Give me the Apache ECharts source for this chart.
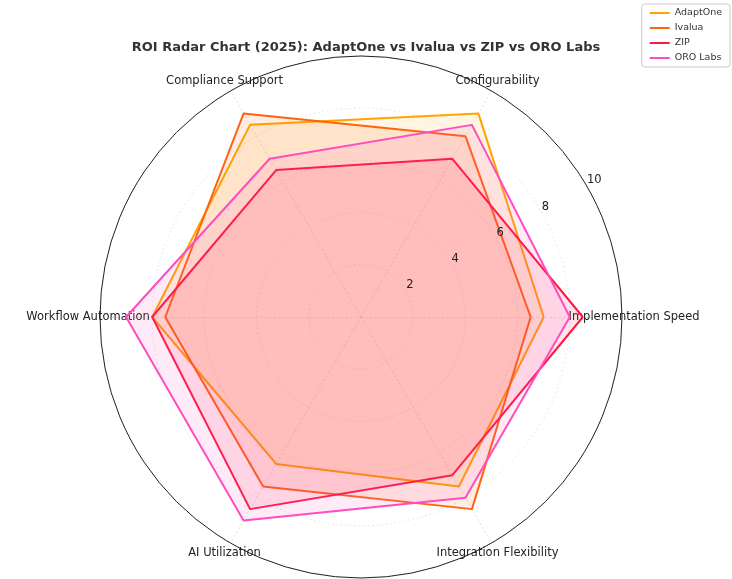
<!DOCTYPE html>
<html lang="en">
<head>
    <meta charset="UTF-8">
    <title>ROI Radar Chart</title>
    <script type="text/javascript" src="https://cdn.jsdelivr.net/npm/echarts@6/dist/echarts.min.js"></script>
    <style>
        html, body { margin: 0; padding: 0; background: #fff; }
        #container { width: 732px; height: 579px; }
    </style>
</head>
<body>
<div id="container"></div>
<script type="text/javascript">
    // criteria, counter-clockwise from the right
    var criteria = ['Implementation Speed', 'Configurability', 'Compliance Support',
        'Workflow Automation', 'AI Utilization', 'Integration Flexibility'];
    var vendors = ['AdaptOne', 'Ivalua', 'ZIP', 'ORO Labs'];
    var colors = ['#FFA500', '#FF6410', '#FF1744', '#FF4DC0'];

    var adaptOne = [7, 9, 8.5, 8, 6.5, 7.5];
    var ivalua = [6.5, 8, 9, 7.5, 7.5, 8.5];
    var zip = [8.5, 7, 6.5, 8, 8.5, 7];
    var oroLabs = [8, 8.5, 7, 9, 9, 8];
    var values = [adaptOne, ivalua, zip, oroLabs];

    var rTicks = [2, 4, 6, 8, 10];

    var center = [361, 317];
    var radius = 261;

    var dom = document.getElementById("container");
    var myChart = echarts.init(dom);

    var series = vendors.map(function (name, i) {
        return {
            name: name,
            type: 'radar',
            symbol: 'none',
            z: 2 + i,
            lineStyle: {color: colors[i], width: 2},
            itemStyle: {color: colors[i]},
            areaStyle: {color: colors[i], opacity: 0.115},
            data: [{value: values[i], name: name}]
        };
    });

    var option = {
        animation: false,
        backgroundColor: '#fff',
        title: {
            text: 'ROI Radar Chart (2025): AdaptOne vs Ivalua vs ZIP vs ORO Labs',
            left: 'center',
            top: 36,
            textStyle: {fontFamily: 'DejaVu Sans', fontSize: 13, fontWeight: 'bold', color: '#333'}
        },
        legend: {
            orient: 'vertical',
            right: 2,
            top: 4,
            data: vendors,
            icon: 'rect',
            itemWidth: 20,
            itemHeight: 2,
            itemGap: 5,
            padding: [4, 8, 4, 8],
            borderColor: '#ccc',
            borderWidth: 1,
            borderRadius: 3,
            textStyle: {fontFamily: 'DejaVu Sans', fontSize: 9.5, color: '#333'}
        },
        polar: {center: center, radius: radius},
        angleAxis: {
            type: 'value',
            min: 0,
            max: 360,
            startAngle: 30,
            axisLine: {show: true, lineStyle: {color: '#222', width: 1}},
            axisTick: {show: false},
            axisLabel: {show: false},
            splitLine: {show: false}
        },
        radiusAxis: {
            type: 'value',
            min: 0,
            max: 10,
            interval: 2,
            z: 10,
            axisLine: {show: false},
            axisTick: {show: false},
            splitLine: {show: false},
            axisLabel: {
                margin: 0,
                rotate: 0,
                align: 'left',
                verticalAlign: 'bottom',
                fontFamily: 'DejaVu Sans',
                fontSize: 11.5,
                color: '#222',
                formatter: function (v) {
                    return rTicks.indexOf(v) >= 0 ? String(v) : '';
                }
            }
        },
        radar: {
            center: center,
            radius: radius,
            startAngle: 0,
            shape: 'circle',
            splitNumber: 5,
            nameGap: 12,
            axisName: {
                color: '#222',
                fontFamily: 'DejaVu Sans',
                fontSize: 11.5,
                align: 'center',
                verticalAlign: 'middle'
            },
            indicator: criteria.map(function (c) {
                return {name: c, min: 0, max: 10};
            }),
            axisLine: {lineStyle: {color: '#dadada', type: [1.5, 3], width: 0.8}},
            splitLine: {lineStyle: {color: '#dadada', type: [1.5, 3], width: 0.8}},
            splitArea: {show: false},
            axisLabel: {show: false}
        },
        series: series
    };

    if (option && typeof option === "object") {
        myChart.setOption(option, true);
    }
</script>
</body>
</html>
